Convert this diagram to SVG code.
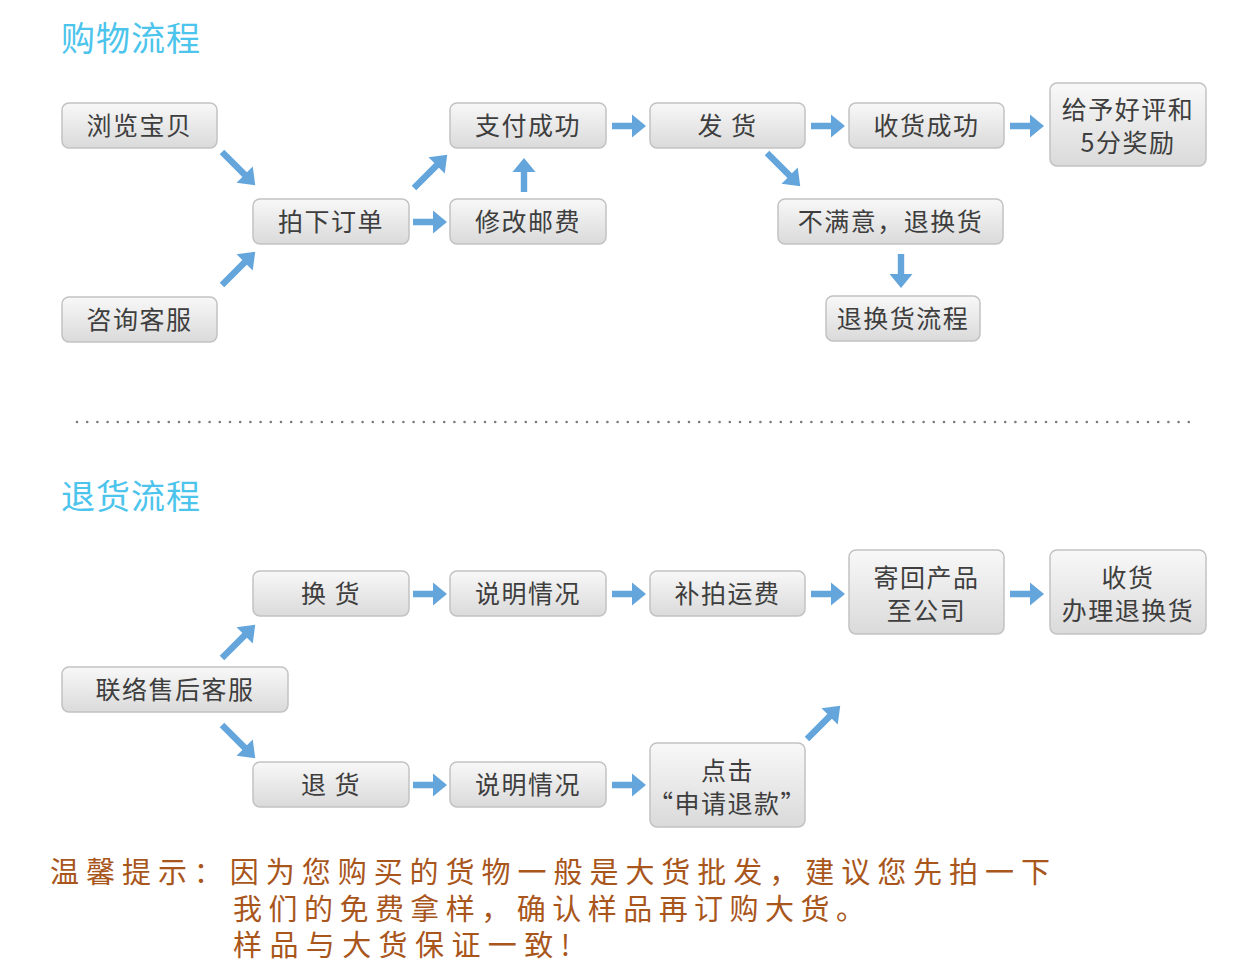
<svg xmlns="http://www.w3.org/2000/svg" width="1253" height="976" viewBox="0 0 1253 976">
<defs>
  <linearGradient id="bg" x1="0" y1="0" x2="0" y2="1">
    <stop offset="0" stop-color="#f8f8f8"/>
    <stop offset="1" stop-color="#dadada"/>
  </linearGradient>
  <path id="ah" d="M0,-3.2 L20,-3.2 L20,-11.5 L34,0 L20,11.5 L20,3.2 L0,3.2 Z"/>
  <path id="ad" d="M0,-3.2 L32,-3.2 L32,-11.5 L47,0 L32,11.5 L32,3.2 L0,3.2 Z"/>
  <style>
    .box{fill:url(#bg);stroke:#c2c2c2;stroke-width:1.5}
    .t{font-family:"Noto Sans CJK SC","Noto Sans",sans-serif;font-size:25px;fill:#3e3e3e;text-anchor:middle;letter-spacing:1.5px}
    .title{font-family:"Noto Sans CJK SC",sans-serif;font-size:34px;fill:#4cc4ec;letter-spacing:1px}
    .tip{font-family:"Noto Sans CJK SC",sans-serif;font-size:29px;fill:#a8561c}
    .arr{fill:#64a6dc}
  </style>
</defs>
<rect width="1253" height="976" fill="#ffffff"/>

<text class="title" x="61" y="51">购物流程</text>
<text class="title" x="61" y="509">退货流程</text>

<line x1="77" y1="422" x2="1197" y2="422" stroke="#7a7a7a" stroke-width="2.6" stroke-linecap="round" stroke-dasharray="0 10.2"/>

<g id="n-browse"><rect class="box" x="62" y="103" width="155" height="45" rx="7"/><text class="t" x="139.5" y="135">浏览宝贝</text></g>
<g id="n-consult"><rect class="box" x="62" y="297" width="155" height="45" rx="7"/><text class="t" x="139.5" y="329">咨询客服</text></g>
<g id="n-order"><rect class="box" x="253" y="199" width="156" height="45" rx="7"/><text class="t" x="331" y="231">拍下订单</text></g>
<g id="n-pay"><rect class="box" x="450" y="103" width="156" height="45" rx="7"/><text class="t" x="528" y="135">支付成功</text></g>
<g id="n-postage"><rect class="box" x="450" y="199" width="156" height="45" rx="7"/><text class="t" x="528" y="231">修改邮费</text></g>
<g id="n-ship"><rect class="box" x="650" y="103" width="155" height="45" rx="7"/><text class="t" x="727.5" y="135">发 货</text></g>
<g id="n-received"><rect class="box" x="849" y="103" width="155" height="45" rx="7"/><text class="t" x="926.5" y="135">收货成功</text></g>
<g id="n-review"><rect class="box" x="1050" y="83" width="156" height="83" rx="7"/><text class="t" x="1128" y="119">给予好评和</text><text class="t" x="1128" y="152">5分奖励</text></g>
<g id="n-unsatisfied"><rect class="box" x="778" y="199" width="225" height="45" rx="7"/><text class="t" x="890.5" y="231">不满意，退换货</text></g>
<g id="n-returnflow"><rect class="box" x="826" y="296" width="154" height="45" rx="7"/><text class="t" x="903" y="328">退换货流程</text></g>

<g id="n-exchange"><rect class="box" x="253" y="571" width="156" height="45" rx="7"/><text class="t" x="331" y="603">换 货</text></g>
<g id="n-explain1"><rect class="box" x="450" y="571" width="156" height="45" rx="7"/><text class="t" x="528" y="603">说明情况</text></g>
<g id="n-freight"><rect class="box" x="650" y="571" width="155" height="45" rx="7"/><text class="t" x="727.5" y="603">补拍运费</text></g>
<g id="n-sendback"><rect class="box" x="849" y="550" width="155" height="84" rx="7"/><text class="t" x="926.5" y="587">寄回产品</text><text class="t" x="926.5" y="620">至公司</text></g>
<g id="n-process"><rect class="box" x="1050" y="550" width="156" height="84" rx="7"/><text class="t" x="1128" y="587">收货</text><text class="t" x="1128" y="620">办理退换货</text></g>
<g id="n-contact"><rect class="box" x="62" y="667" width="226" height="45" rx="7"/><text class="t" x="175" y="699">联络售后客服</text></g>
<g id="n-refund"><rect class="box" x="253" y="762" width="156" height="45" rx="7"/><text class="t" x="331" y="794">退 货</text></g>
<g id="n-explain2"><rect class="box" x="450" y="762" width="156" height="45" rx="7"/><text class="t" x="528" y="794">说明情况</text></g>
<g id="n-apply"><rect class="box" x="650" y="743" width="155" height="84" rx="7"/><text class="t" x="727.5" y="780">点击</text><text class="t" x="727.5" y="813">“申请退款”</text></g>

<g id="connectors" class="arr">
  <use href="#ad" transform="translate(222,152) rotate(45)"/>
  <use href="#ad" transform="translate(222,285) rotate(-45)"/>
  <use href="#ad" transform="translate(414,188) rotate(-45)"/>
  <use href="#ah" transform="translate(413,222)"/>
  <use href="#ah" transform="translate(524,192) rotate(-90)"/>
  <use href="#ah" transform="translate(612,126)"/>
  <use href="#ah" transform="translate(811,126)"/>
  <use href="#ah" transform="translate(1010,126)"/>
  <use href="#ad" transform="translate(767,153) rotate(45)"/>
  <use href="#ah" transform="translate(901,254) rotate(90)"/>

  <use href="#ad" transform="translate(222,658) rotate(-45)"/>
  <use href="#ad" transform="translate(222,725) rotate(45)"/>
  <use href="#ah" transform="translate(413,594)"/>
  <use href="#ah" transform="translate(612,594)"/>
  <use href="#ah" transform="translate(811,594)"/>
  <use href="#ah" transform="translate(1010,594)"/>
  <use href="#ah" transform="translate(413,785)"/>
  <use href="#ah" transform="translate(612,785)"/>
  <use href="#ad" transform="translate(807,739) rotate(-45)"/>
</g>

<text class="tip" x="50" y="883" textLength="1000" lengthAdjust="spacing">温馨提示：因为您购买的货物一般是大货批发，建议您先拍一下</text>
<text class="tip" x="233" y="920" textLength="632" lengthAdjust="spacing">我们的免费拿样，确认样品再订购大货。</text>
<text class="tip" x="233" y="956" textLength="337" lengthAdjust="spacing">样品与大货保证一致!</text>
</svg>
